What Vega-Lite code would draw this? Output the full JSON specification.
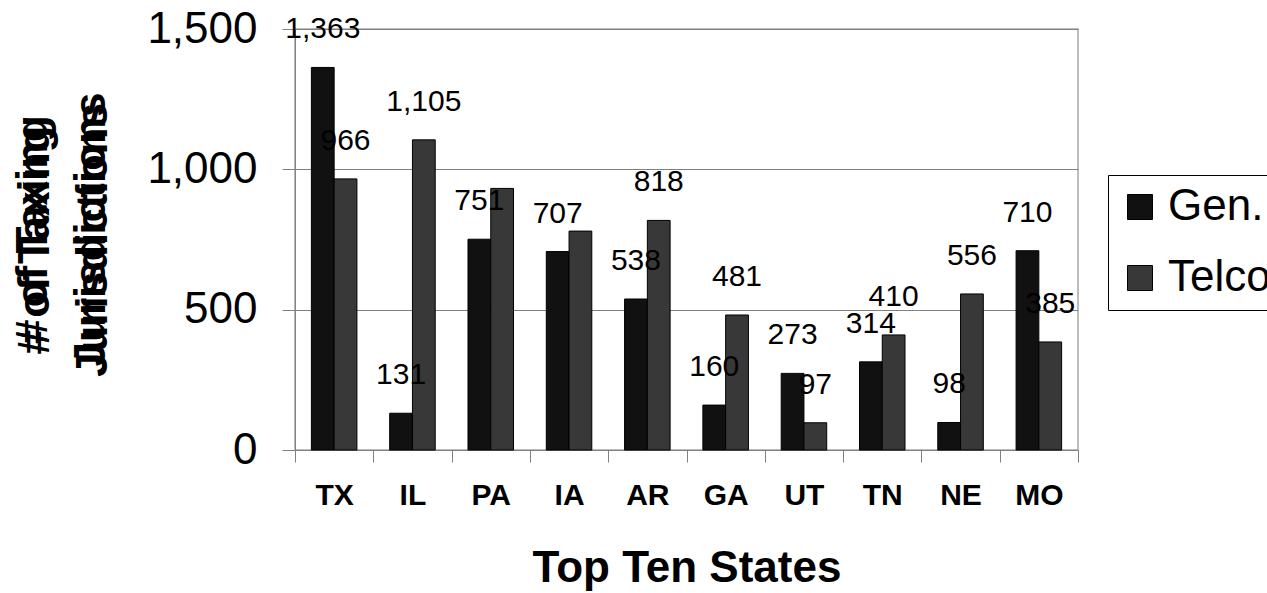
{
  "$schema": "https://vega.github.io/schema/vega-lite/v6.json",
  "autosize": {"type": "none"},
  "width": 783,
  "height": 421,
  "padding": {"left": 295, "top": 29, "right": 189, "bottom": 143},
  "background": "white",
  "config": {
    "font": "Liberation Sans",
    "view": {"stroke": "#a8a8a8", "strokeWidth": 1.5}
  },
  "title": {
    "text": ["# of Taxing", "Jurisdictions"],
    "orient": "left",
    "anchor": "middle",
    "frame": "group",
    "offset": -100,
    "dx": 10,
    "fontSize": 44,
    "fontWeight": "bold",
    "lineHeight": 58,
    "color": "#000"
  },
  "data": {
    "values": [
      {"state": "TX", "series": "Gen.", "value": 1363, "shown": true},
      {"state": "TX", "series": "Telco", "value": 966, "shown": true},
      {"state": "IL", "series": "Gen.", "value": 131, "shown": true},
      {"state": "IL", "series": "Telco", "value": 1105, "shown": true},
      {"state": "PA", "series": "Gen.", "value": 751, "shown": true},
      {"state": "PA", "series": "Telco", "value": 932, "shown": false},
      {"state": "IA", "series": "Gen.", "value": 707, "shown": true},
      {"state": "IA", "series": "Telco", "value": 780, "shown": false},
      {"state": "AR", "series": "Gen.", "value": 538, "shown": true},
      {"state": "AR", "series": "Telco", "value": 818, "shown": true},
      {"state": "GA", "series": "Gen.", "value": 160, "shown": true},
      {"state": "GA", "series": "Telco", "value": 481, "shown": true},
      {"state": "UT", "series": "Gen.", "value": 273, "shown": true},
      {"state": "UT", "series": "Telco", "value": 97, "shown": true},
      {"state": "TN", "series": "Gen.", "value": 314, "shown": true},
      {"state": "TN", "series": "Telco", "value": 410, "shown": true},
      {"state": "NE", "series": "Gen.", "value": 98, "shown": true},
      {"state": "NE", "series": "Telco", "value": 556, "shown": true},
      {"state": "MO", "series": "Gen.", "value": 710, "shown": true},
      {"state": "MO", "series": "Telco", "value": 385, "shown": true}
    ]
  },
  "encoding": {
    "x": {
      "field": "state",
      "type": "nominal",
      "sort": ["TX", "IL", "PA", "IA", "AR", "GA", "UT", "TN", "NE", "MO"],
      "scale": {"paddingInner": 0, "paddingOuter": 0},
      "axis": {
        "title": "Top Ten States",
        "titleFontSize": 44,
        "titleFontWeight": "bold",
        "titleColor": "#000",
        "titlePadding": 36,
        "labelAngle": 0,
        "labelFontSize": 30,
        "labelFontWeight": "bold",
        "labelColor": "#000",
        "labelPadding": 18,
        "tickBand": "extent",
        "tickSize": 12,
        "tickColor": "#808080",
        "domainColor": "#808080",
        "grid": false
      }
    },
    "xOffset": {
      "field": "series",
      "type": "nominal",
      "scale": {"paddingInner": 0, "paddingOuter": 0.72}
    },
    "y": {
      "field": "value",
      "type": "quantitative",
      "scale": {"domain": [0, 1500], "nice": false},
      "axis": {
        "title": ["# of Taxing", "Jurisdictions"],
        "titleFontSize": 44,
        "titleFontWeight": "bold",
        "titleColor": "#000",
        "titleLineHeight": 58,
        "titlePadding": 31,
        "values": [0, 500, 1000, 1500],
        "format": ",d",
        "labelFontSize": 44,
        "labelColor": "#000",
        "labelPadding": 25,
        "tickSize": 13,
        "tickColor": "#808080",
        "domainColor": "#808080",
        "grid": true,
        "gridColor": "#808080"
      }
    }
  },
  "layer": [
    {
      "mark": {"type": "bar", "stroke": "#000", "strokeWidth": 1},
      "encoding": {
        "color": {
          "field": "series",
          "type": "nominal",
          "scale": {"domain": ["Gen.", "Telco"], "range": ["#111111", "#383838"]},
          "legend": {
            "orient": "none",
            "legendX": 813,
            "legendY": 146,
            "title": null,
            "strokeColor": "#000",
            "fillColor": "#fff",
            "padding": 10,
            "symbolType": "square",
            "symbolSize": 625,
            "symbolStrokeColor": "#000",
            "symbolStrokeWidth": 1,
            "labelFontSize": 44,
            "labelColor": "#000",
            "labelOffset": 6,
            "rowPadding": 27
          }
        }
      }
    },
    {
      "transform": [{"filter": "datum.shown"}],
      "mark": {
        "type": "text",
        "fontSize": 30,
        "dy": -38,
        "baseline": "middle",
        "align": "center",
        "color": "#000"
      },
      "encoding": {
        "text": {"field": "value", "type": "quantitative", "format": ","}
      }
    }
  ]
}
